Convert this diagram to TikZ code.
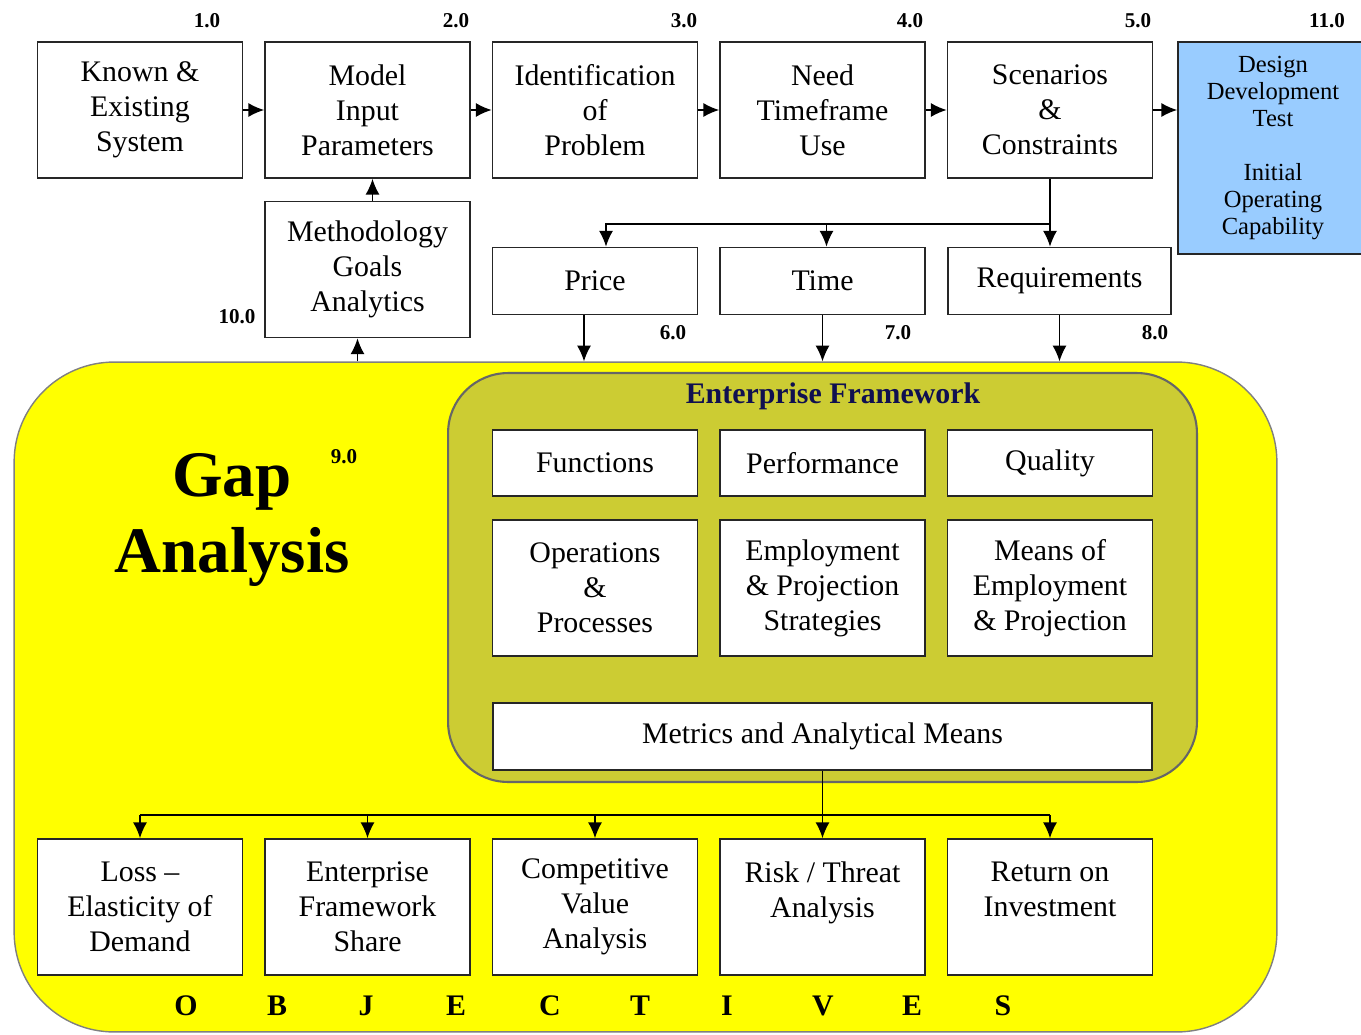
\documentclass[tikz,border=0pt]{standalone}
\usepackage{fontspec}
\setmainfont{Liberation Serif}
\usepackage{xcolor}
\usetikzlibrary{arrows.meta}
\definecolor{gapyellow}{RGB}{255,255,0}
\definecolor{efolive}{RGB}{204,204,51}
\definecolor{iocblue}{RGB}{153,204,255}
\definecolor{efnavy}{RGB}{16,16,80}
\tikzset{
  stepnode/.style = {draw=black!85, fill=white, line width=1pt, align=center,
    inner sep=0pt, font=\fontsize{17}{20}\selectfont,
    minimum width=4.1cm, minimum height=2.72cm},% one step of the process
  flatnode/.style = {stepnode, minimum height=1.34cm},% one line box
  numtag/.style = {font=\fontsize{12}{12}\selectfont\bfseries, inner sep=0pt},% step number
  objletter/.style = {font=\fontsize{17}{17}\selectfont\bfseries, inner sep=0pt}% O B J E C T I V E S
}

\begin{document}
\begin{tikzpicture}[x=0.02cm, y=-0.02cm, line width=0.8pt,
  >={Latex[length=9pt,width=8pt]}]
\useasboundingbox (0,0) rectangle (1361,1034);

% areas
\node [draw=black!50, fill=gapyellow, rounded corners=2cm, inner sep=0pt,
  minimum width=25.26cm, minimum height=13.4cm] (gap) at (645.5,697) {};
\node [draw=black!60, fill=efolive, rounded corners=1.2cm, inner sep=0pt,
  line width=1.2pt, minimum width=14.98cm, minimum height=8.18cm] (ef) at (822.5,577.5) {};
\node [font=\fontsize{17}{17}\selectfont\bfseries, text=efnavy] (eftitle) at (833,396)
  {Enterprise Framework};
\node [font=\fontsize{37}{43}\selectfont\bfseries, align=center] (gaptitle) at (232,520)
  {Gap\\Analysis};

% top row
\node [stepnode] (known) at (140,110) {Known \&\\Existing\\System};
\node [stepnode] (model) at (367.5,110) {Model\\Input\\Parameters};
\node [stepnode] (ident) at (595,110) {Identification\\of\\Problem};
\node [stepnode] (need) at (822.5,110) {Need\\Timeframe\\Use};
\node [stepnode] (scen) at (1050,110) {Scenarios\\\&\\Constraints};
\node [stepnode, fill=iocblue, minimum width=3.8cm, minimum height=4.24cm,
  font=\fontsize{14}{15.4}\selectfont] (ioc) at (1273,148)
  {Design\\Development\\Test\\[15.4pt]Initial\\Operating\\Capability};

% second row
\node [stepnode] (meth) at (367.5,269.5) {Methodology\\Goals\\Analytics};
\node [flatnode] (price) at (595,281) {Price};
\node [flatnode] (time) at (822.5,281) {Time};
\node [flatnode, minimum width=4.46cm] (req) at (1059.5,281) {Requirements};

% enterprise framework
\node [flatnode, minimum height=1.32cm] (func) at (595,463) {Functions};
\node [flatnode, minimum height=1.32cm] (perf) at (822.5,463) {Performance};
\node [flatnode, minimum height=1.32cm] (qual) at (1050,463) {Quality};
\node [stepnode] (ops) at (595,588) {Operations\\\&\\Processes};
\node [stepnode] (emp) at (822.5,588) {Employment\\\& Projection\\Strategies};
\node [stepnode] (means) at (1050,588) {Means of\\Employment\\\& Projection};
\node [flatnode, minimum width=13.18cm] (metrics) at (822.5,736.5)
  {Metrics and Analytical Means};

% objectives
\node [stepnode] (loss) at (140,907) {Loss --\\Elasticity of\\Demand};
\node [stepnode] (share) at (367.5,907) {Enterprise\\Framework\\Share};
\node [stepnode] (value) at (595,907) {Competitive\\Value\\Analysis};
\node [stepnode] (risk) at (822.5,907) {Risk / Threat\\Analysis\\\mbox{}};
\node [stepnode] (roi) at (1050,907) {Return on\\Investment\\\mbox{}};
\foreach \l/\x in {O/186,B/277,J/366,E/456,C/550,T/640,I/727,V/823,E/912,S/1003}
  \node [objletter] (obj\x) at (\x,1006) {\l};

% step numbers
\node [numtag] (n1) at (207,21) {1.0};
\node [numtag] (n2) at (456,21) {2.0};
\node [numtag] (n3) at (684,21) {3.0};
\node [numtag] (n4) at (910,21) {4.0};
\node [numtag] (n5) at (1138,21) {5.0};
\node [numtag] (n11) at (1327,21) {11.0};
\node [numtag] (n6) at (673,333) {6.0};
\node [numtag] (n7) at (898,333) {7.0};
\node [numtag] (n8) at (1155,333) {8.0};
\node [numtag] (n9) at (344,457) {9.0};
\node [numtag] (n10) at (237,317) {10.0};

% connectors
\foreach \a/\b in {known/model,model/ident,ident/need,need/scen,scen/ioc}
  \draw [->] (\a.east) -- (\a.east -| \b.west);
\draw [->] ([xshift=0.1cm]meth.north) -- ([xshift=0.1cm]model.south);
\draw [->] ([xshift=-0.2cm]gap.north -| meth.south) -- ([xshift=-0.2cm]meth.south);
\coordinate (split) at (scen.south |- 0,224);
\draw (scen.south) -- (split);
\draw [->] (split) -- (split |- req.north);
\draw [->] (split) -| ([xshift=0.08cm]time.north);
\draw [->] (split) -| ([xshift=0.22cm]price.north);
\draw [->] ([xshift=-0.22cm]price.south) -- ([xshift=-0.22cm]price.south |- gap.north);
\foreach \n in {time,req}
  \draw [->] (\n.south) -- (\n.south |- gap.north);
\coordinate (bus) at (metrics.south |- 0,815);
\draw (metrics.south) -- (bus);
\draw (bus -| loss.north) -- (bus -| roi.north);
\foreach \n in {loss,share,value,risk,roi}
  \draw [->] (bus -| \n.north) -- (\n.north);
\end{tikzpicture}
\end{document}
